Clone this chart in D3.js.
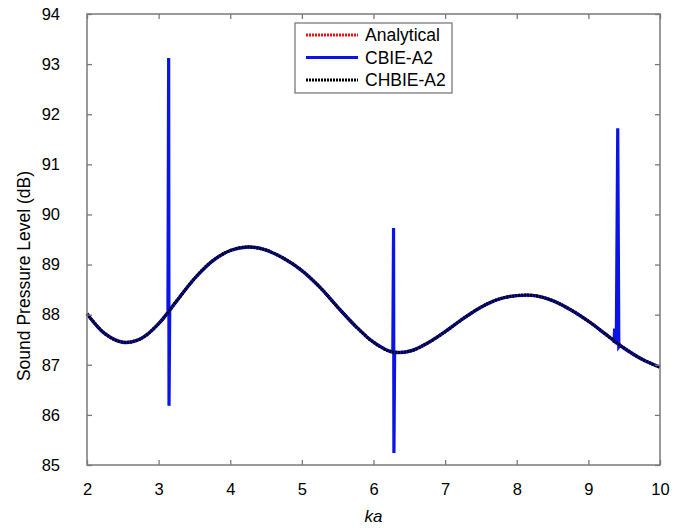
<!DOCTYPE html>
<html>
<head>
<meta charset="utf-8">
<script src="https://cdn.jsdelivr.net/npm/d3@7"></script>
<style>
body{margin:0;background:#fff;}
text{font-family:"Liberation Sans",Arial,sans-serif;fill:#000;}
</style>
</head>
<body>
<div id="chart"></div>
<script>
var w=684;
var h=528;

// smooth curve (Analytical and CHBIE-A2 overlap)
var ka=[2.0,2.25,2.5,2.75,3.0,3.25,3.5,3.75,4.0,4.25,4.5,4.75,5.0,5.25,5.5,5.75,6.0,
        6.25,6.5,6.75,7.0,7.25,7.5,7.75,8.0,8.25,8.5,8.75,9.0,9.25,9.5,9.75,10.0];
var spl=[88.02,87.62,87.45,87.52,87.82,88.27,88.72,89.07,89.28,89.35,89.29,89.12,88.88,
         88.55,88.15,87.77,87.45,87.26,87.27,87.43,87.66,87.92,88.15,88.31,88.38,88.38,
         88.28,88.1,87.87,87.6,87.33,87.11,86.95];

// CBIE-A2 spikes near ka = pi, 2pi, 3pi
var spike1Ka=[3.13,3.14,3.145,3.155];
var spike1Spl=[88.08,93.12,86.18,88.12];
var spike2Ka=[6.27,6.28,6.285,6.295];
var spike2Spl=[87.25,89.73,85.24,87.25];
var spike3Ka=[9.36,9.365,9.385,9.39,9.41,9.425,9.435];
var spike3Spl=[87.44,87.69,87.69,87.41,91.72,87.36,87.38];

var xTicks=[2,3,4,5,6,7,8,9,10];
var yTicks=[85,86,87,88,89,90,91,92,93,94];

var margin={left:87,right:24,top:14,bottom:63};

var svg=d3.select("#chart").append("svg")
          .attr("width",w)
          .attr("height",h);

var x=d3.scaleLinear().domain([2,10]).range([margin.left,w-margin.right]);
var y=d3.scaleLinear().domain([85,94]).range([h-margin.bottom,margin.top]);

function pairs(a,b){return a.map(function(d,i){return [d,b[i]];});}
var smooth=pairs(ka,spl);
var spikes=[pairs(spike1Ka,spike1Spl),pairs(spike2Ka,spike2Spl),pairs(spike3Ka,spike3Spl)];

var line=d3.line()
           .x(function(d){return x(d[0]);})
           .y(function(d){return y(d[1]);})
           .curve(d3.curveCatmullRom);
var spikeLine=d3.line()
           .x(function(d){return x(d[0]);})
           .y(function(d){return y(d[1]);});

svg.append("path").datum(smooth)
   .attr("d",line).attr("fill","none")
   .attr("stroke","#e8141c").attr("stroke-width",3)
   .attr("stroke-dasharray","2,1");

// CBIE-A2: smooth part plus spikes
svg.append("path").datum(smooth)
   .attr("d",line).attr("fill","none")
   .attr("stroke","#0a14e6").attr("stroke-width",3.4);
svg.selectAll(".spike").data(spikes).enter().append("path")
   .attr("class","spike")
   .attr("d",spikeLine).attr("fill","none")
   .attr("stroke","#0a14e6").attr("stroke-width",3.2)
   .attr("stroke-linejoin","miter");

svg.append("path").datum(smooth)
   .attr("d",line).attr("fill","none")
   .attr("stroke","#000").attr("stroke-width",3)
   .attr("stroke-dasharray","2,1");

// axes with inside ticks
var axisColor="#7a7a7a";
var gBottom=svg.append("g").attr("transform","translate(0,"+y(85)+")")
   .call(d3.axisBottom(x).tickValues(xTicks).tickSize(-5).tickPadding(18));
var gLeft=svg.append("g").attr("transform","translate("+x(2)+",0)")
   .call(d3.axisLeft(y).tickValues(yTicks).tickSize(-5).tickPadding(27));
var gTop=svg.append("g").attr("transform","translate(0,"+y(94)+")")
   .call(d3.axisTop(x).tickValues(xTicks).tickSize(-5).tickFormat(""));
var gRight=svg.append("g").attr("transform","translate("+x(10)+",0)")
   .call(d3.axisRight(y).tickValues(yTicks).tickSize(-5).tickFormat(""));

[gBottom,gLeft,gTop,gRight].forEach(function(g){
  g.select(".domain").remove();
  g.selectAll(".tick line").attr("stroke",axisColor).attr("stroke-width",1.3);
  g.selectAll("text").style("font-size","16.5px").style("font-family","'Liberation Sans',Arial,sans-serif").attr("fill","#000");
});

svg.append("rect")
   .attr("x",x(2)).attr("y",y(94))
   .attr("width",x(10)-x(2)).attr("height",y(85)-y(94))
   .attr("fill","none").attr("stroke",axisColor).attr("stroke-width",1.5);

// titles
svg.append("text")
   .attr("x",x(6)).attr("y",522)
   .attr("text-anchor","middle")
   .style("font-size","17px").style("font-style","italic")
   .text("ka");

svg.append("text")
   .attr("transform","translate(30,276) rotate(-90)")
   .attr("text-anchor","middle")
   .style("font-size","17.5px")
   .text("Sound Pressure Level (dB)");

// legend
var legend=svg.append("g");
legend.append("rect")
      .attr("x",295).attr("y",23).attr("width",157).attr("height",70)
      .attr("fill","#fff").attr("stroke",axisColor).attr("stroke-width",1.3);

var items=[
  {name:"Analytical",color:"#e8141c",dash:"2,1"},
  {name:"CBIE-A2",color:"#0a14e6",dash:null},
  {name:"CHBIE-A2",color:"#000",dash:"2,1"}
];
items.forEach(function(d,i){
  var ly=35+i*22.5;
  legend.append("line")
        .attr("x1",306).attr("x2",358).attr("y1",ly).attr("y2",ly)
        .attr("stroke",d.color).attr("stroke-width",3)
        .attr("stroke-dasharray",d.dash);
  legend.append("text")
        .attr("x",365).attr("y",ly).attr("dy","0.36em")
        .style("font-size","17.5px")
        .text(d.name);
});
</script>
</body>
</html>
